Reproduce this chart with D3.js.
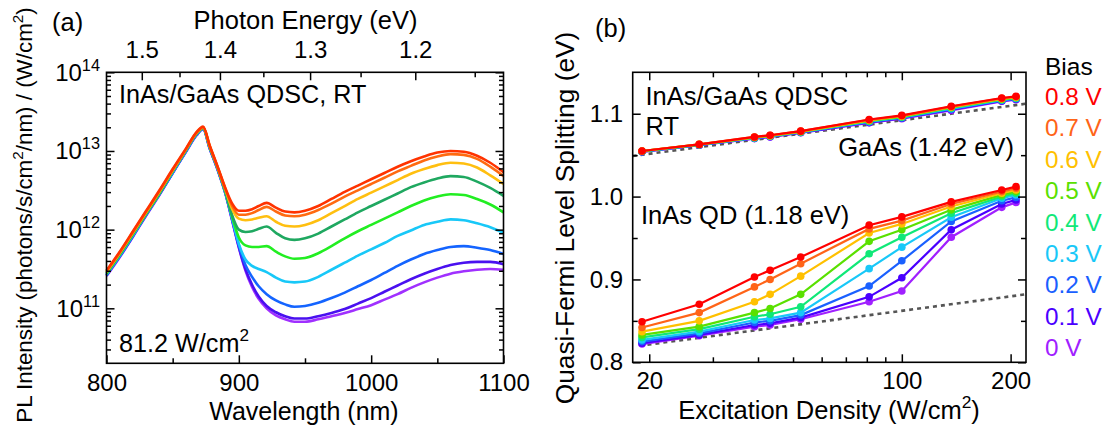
<!DOCTYPE html>
<html>
<head>
<meta charset="utf-8">
<script src="https://cdn.jsdelivr.net/npm/d3@7"></script>
<style>
  body { margin: 0; background: #fff; }
  text { font-family: "Liberation Sans", Arial, Helvetica, sans-serif; }
</style>
</head>
<body>
<svg id="chart" width="1108" height="432"></svg>
<script>
// ---------- panel (a): PL spectra, values are log10(PL intensity) ----------
const wavelength = [800, 810, 820, 830, 840, 850, 860, 868, 873, 878, 884,
  890, 895, 900, 905, 910, 915, 921, 928, 935, 942, 950, 960, 970, 980, 990,
  1000, 1010, 1020, 1030, 1040, 1050, 1060, 1070, 1080, 1090, 1100];

const pl08 = [11.48, 11.72, 11.98, 12.24, 12.50, 12.77, 13.03, 13.24, 13.31, 13.07, 12.80,
  12.52, 12.33, 12.24, 12.24, 12.26, 12.30, 12.34, 12.28, 12.23, 12.22, 12.24, 12.30, 12.39, 12.48, 12.56,
  12.64, 12.72, 12.80, 12.87, 12.93, 12.98, 13.00, 12.99, 12.94, 12.85, 12.73];
const pl07 = [11.47, 11.71, 11.97, 12.23, 12.49, 12.76, 13.02, 13.23, 13.30, 13.06, 12.79,
  12.51, 12.30, 12.19, 12.19, 12.21, 12.25, 12.29, 12.23, 12.18, 12.17, 12.19, 12.25, 12.33, 12.42, 12.50,
  12.58, 12.66, 12.74, 12.81, 12.88, 12.93, 12.96, 12.95, 12.90, 12.80, 12.68];
const pl06 = [11.46, 11.70, 11.96, 12.22, 12.48, 12.75, 13.02, 13.23, 13.30, 13.06, 12.79,
  12.50, 12.26, 12.14, 12.12, 12.13, 12.15, 12.17, 12.10, 12.05, 12.04, 12.06, 12.12, 12.21, 12.30, 12.39,
  12.47, 12.55, 12.63, 12.71, 12.77, 12.82, 12.85, 12.84, 12.79, 12.69, 12.58];
const pl05 = [11.45, 11.69, 11.95, 12.21, 12.47, 12.74, 13.01, 13.22, 13.30, 13.05, 12.78,
  12.48, 12.18, 12.00, 11.97, 11.98, 12.01, 12.04, 11.96, 11.89, 11.87, 11.89, 11.95, 12.04, 12.13, 12.22,
  12.30, 12.38, 12.46, 12.54, 12.60, 12.65, 12.68, 12.67, 12.61, 12.53, 12.43];
const pl04 = [11.44, 11.68, 11.94, 12.20, 12.46, 12.74, 13.01, 13.22, 13.29, 13.05, 12.78,
  12.47, 12.16, 11.90, 11.80, 11.78, 11.78, 11.79, 11.72, 11.66, 11.63, 11.64, 11.70, 11.79, 11.89, 11.98,
  12.06, 12.14, 12.22, 12.30, 12.37, 12.42, 12.45, 12.44, 12.39, 12.32, 12.22];
const pl03 = [11.43, 11.67, 11.93, 12.20, 12.46, 12.73, 13.00, 13.21, 13.29, 13.04, 12.77,
  12.46, 12.14, 11.82, 11.62, 11.54, 11.50, 11.46, 11.39, 11.34, 11.33, 11.34, 11.40, 11.49, 11.58, 11.67,
  11.75, 11.83, 11.92, 11.99, 12.06, 12.10, 12.13, 12.12, 12.08, 12.03, 11.96];
const pl02 = [11.42, 11.66, 11.92, 12.19, 12.45, 12.72, 13.00, 13.21, 13.28, 13.04, 12.77,
  12.46, 12.13, 11.80, 11.55, 11.40, 11.28, 11.18, 11.10, 11.05, 11.02, 11.03, 11.07, 11.13, 11.20, 11.28,
  11.36, 11.45, 11.54, 11.62, 11.69, 11.74, 11.78, 11.79, 11.77, 11.74, 11.69];
const pl01 = [11.42, 11.66, 11.92, 12.19, 12.45, 12.72, 12.99, 13.20, 13.28, 13.03, 12.76,
  12.45, 12.12, 11.78, 11.50, 11.30, 11.15, 11.03, 10.95, 10.90, 10.87, 10.87, 10.90, 10.94, 10.99, 11.06,
  11.13, 11.21, 11.29, 11.37, 11.44, 11.50, 11.55, 11.58, 11.59, 11.59, 11.56];
const pl00 = [11.41, 11.65, 11.91, 12.18, 12.44, 12.72, 12.99, 13.20, 13.28, 13.03, 12.76,
  12.45, 12.11, 11.77, 11.48, 11.27, 11.12, 11.00, 10.91, 10.86, 10.83, 10.83, 10.86, 10.90, 10.94, 10.99,
  11.04, 11.11, 11.18, 11.26, 11.33, 11.39, 11.44, 11.47, 11.49, 11.50, 11.49];

const spectra = [pl08, pl07, pl06, pl05, pl04, pl03, pl02, pl01, pl00];
const spectraColors = ["#ff3300", "#ff6a10", "#ffbf10", "#1fa860", "#22ee22", "#18c8f8", "#1464ff", "#4a10f0", "#a030ff"];

const wlMajor = [800, 900, 1000, 1100];
const wlMinor = [850, 950, 1050];
const energyMajor = [1.5, 1.4, 1.3, 1.2];
const energyMinor = [1.45, 1.35, 1.25, 1.15];
const plDecades = [11, 12, 13, 14];

// ---------- panel (b): quasi-Fermi level splitting ----------
const excitation = [19.1, 27.5, 39.1, 43.2, 52.5, 81.2, 100, 137, 189, 207];
const biasLabels = ["0.8 V", "0.7 V", "0.6 V", "0.5 V", "0.4 V", "0.3 V", "0.2 V", "0.1 V", "0 V"];
const biasColors = ["#ff0000", "#ff6418", "#ffc000", "#5ae000", "#10e878", "#18c8f8", "#1a60ff", "#4a00ff", "#a020ff"];

const gaas08 = [1.055, 1.063, 1.072, 1.074, 1.079, 1.093, 1.098, 1.109, 1.119, 1.121];
const gaas07 = [1.055, 1.063, 1.072, 1.074, 1.079, 1.0925, 1.0975, 1.1085, 1.1185, 1.1205];
const gaas06 = [1.055, 1.063, 1.0715, 1.0735, 1.0785, 1.092, 1.097, 1.108, 1.118, 1.120];
const gaas05 = [1.0548, 1.0628, 1.0713, 1.0733, 1.0783, 1.0915, 1.0965, 1.1075, 1.1175, 1.1195];
const gaas04 = [1.0546, 1.0626, 1.071, 1.073, 1.078, 1.091, 1.096, 1.107, 1.117, 1.119];
const gaas03 = [1.0545, 1.0625, 1.0708, 1.0728, 1.0778, 1.0905, 1.0955, 1.106, 1.1165, 1.1185];
const gaas02 = [1.0543, 1.0623, 1.0705, 1.0725, 1.0775, 1.090, 1.095, 1.1055, 1.116, 1.118];
const gaas01 = [1.0541, 1.0621, 1.0703, 1.0723, 1.0773, 1.0895, 1.0945, 1.105, 1.1155, 1.1175];
const gaas00 = [1.054, 1.062, 1.070, 1.072, 1.077, 1.089, 1.094, 1.104, 1.115, 1.117];

const qd08 = [0.849, 0.870, 0.903, 0.911, 0.927, 0.9655, 0.9755, 0.9936, 1.008, 1.012];
const qd07 = [0.842, 0.860, 0.891, 0.900, 0.919, 0.961, 0.971, 0.991, 1.006, 1.010];
const qd06 = [0.837, 0.850, 0.873, 0.882, 0.904, 0.956, 0.967, 0.988, 1.004, 1.008];
const qd05 = [0.833, 0.843, 0.860, 0.865, 0.882, 0.946, 0.960, 0.984, 1.002, 1.006];
const qd04 = [0.830, 0.840, 0.855, 0.858, 0.867, 0.931, 0.951, 0.980, 1.000, 1.004];
const qd03 = [0.827, 0.837, 0.851, 0.853, 0.860, 0.913, 0.939, 0.975, 0.998, 1.002];
const qd02 = [0.825, 0.835, 0.848, 0.850, 0.857, 0.892, 0.9225, 0.970, 0.995, 0.999];
const qd01 = [0.823, 0.833, 0.845, 0.847, 0.854, 0.879, 0.902, 0.960, 0.991, 0.996];
const qd00 = [0.822, 0.832, 0.843, 0.845, 0.852, 0.873, 0.886, 0.951, 0.987, 0.993];

const gaasSeries = [gaas08, gaas07, gaas06, gaas05, gaas04, gaas03, gaas02, gaas01, gaas00];
const qdSeries = [qd08, qd07, qd06, qd05, qd04, qd03, qd02, qd01, qd00];

const gaasLimitX = [18, 220];
const gaasLimitY = [1.049, 1.112];
const qdLimitX = [18.8, 220];
const qdLimitY = [0.820, 0.882];

const excMajor = [20, 100, 200];
const excMinor = [30, 40, 50, 60, 70, 80, 90];
const qflsMajor = [0.8, 0.9, 1.0, 1.1];
const qflsMinor = [0.85, 0.95, 1.05];

// ---------- helpers ----------
const svg = d3.select("#chart");
svg.append("rect").attr("width", 1108).attr("height", 432).attr("fill", "#fff");

const TICK_FONT = 24;
const LABEL_FONT = 25.5;

function richText(g, x, y, parts, size) {
  const t = g.append("text").attr("x", x).attr("y", y).attr("font-size", size).attr("fill", "#000");
  let shift = 0;
  parts.forEach(p => {
    const sup = p.startsWith("^");
    const target = sup ? -size * 0.42 : 0;
    t.append("tspan").attr("dy", target - shift)
      .attr("font-size", sup ? size * 0.68 : size)
      .text(sup ? p.slice(1) : p);
    shift = target;
  });
  return t;
}

function styleAxis(g) {
  g.select(".domain").remove();
  g.selectAll(".tick line").attr("stroke", "#000").attr("stroke-width", 1.5);
  g.selectAll(".tick text").attr("font-size", TICK_FONT).attr("fill", "#000")
    .style("font-family", '"Liberation Sans", Arial, sans-serif');
}

// ================= panel (a) =================
const gA = svg.append("g");
const xA = d3.scaleLinear().domain([800, 1100]).range([106.5, 503.5]);
const yA = d3.scaleLog().domain([2e10, 1e14]).range([363.3, 72.3]);

const lineA = d3.line()
  .x((d, i) => xA(wavelength[i]))
  .y(d => yA(Math.pow(10, d)))
  .curve(d3.curveMonotoneX);

for (let i = spectra.length - 1; i >= 0; i--) {
  gA.append("path").datum(spectra[i])
    .attr("d", lineA)
    .attr("fill", "none")
    .attr("stroke", spectraColors[i])
    .attr("stroke-width", 2.6)
    .attr("stroke-linejoin", "round");
}

const plMinor = [];
for (let e = 10; e < 14; e++) {
  for (let k = 2; k <= 9; k++) {
    const v = k * Math.pow(10, e);
    if (v > 2e10 && v < 1e14) plMinor.push(v);
  }
}
const plMajorVals = plDecades.map(e => Math.pow(10, e));

gA.append("g").attr("transform", "translate(0,363.3)")
  .call(d3.axisBottom(xA).tickValues(wlMajor).tickSize(-8).tickPadding(11).tickFormat(d3.format("d")))
  .call(styleAxis);
gA.append("g").attr("transform", "translate(0,363.3)")
  .call(d3.axisBottom(xA).tickValues(wlMinor).tickSize(-5).tickFormat(""))
  .call(styleAxis);
gA.append("g").attr("transform", "translate(0,72.3)")
  .call(d3.axisTop(xA).tickValues(energyMajor.map(e => 1240 / e)).tickSize(-8).tickPadding(14)
    .tickFormat((d, i) => energyMajor[i].toFixed(1)))
  .call(styleAxis);
gA.append("g").attr("transform", "translate(0,72.3)")
  .call(d3.axisTop(xA).tickValues(energyMinor.map(e => 1240 / e)).tickSize(-5).tickFormat(""))
  .call(styleAxis);
gA.append("g").attr("transform", "translate(106.5,0)")
  .call(d3.axisLeft(yA).tickValues(plMajorVals).tickSize(-8).tickFormat(""))
  .call(styleAxis);
gA.append("g").attr("transform", "translate(106.5,0)")
  .call(d3.axisLeft(yA).tickValues(plMinor).tickSize(-4.5).tickFormat(""))
  .call(styleAxis);
gA.append("g").attr("transform", "translate(503.5,0)")
  .call(d3.axisRight(yA).tickValues(plMajorVals).tickSize(-8).tickFormat(""))
  .call(styleAxis);
gA.append("g").attr("transform", "translate(503.5,0)")
  .call(d3.axisRight(yA).tickValues(plMinor).tickSize(-4.5).tickFormat(""))
  .call(styleAxis);

plDecades.forEach(e => {
  richText(gA, 100, yA(Math.pow(10, e)) + 8.5, ["10", "^" + e], TICK_FONT).attr("text-anchor", "end");
});

gA.append("rect").attr("x", 106.5).attr("y", 72.3).attr("width", 397).attr("height", 291)
  .attr("fill", "none").attr("stroke", "#000").attr("stroke-width", 1.6);

gA.append("text").attr("x", 52).attr("y", 30.5).attr("font-size", LABEL_FONT).text("(a)");
gA.append("text").attr("x", 305.5).attr("y", 29).attr("font-size", LABEL_FONT)
  .attr("text-anchor", "middle").text("Photon Energy (eV)");
gA.append("text").attr("x", 304).attr("y", 420).attr("font-size", 25)
  .attr("text-anchor", "middle").text("Wavelength (nm)");
gA.append("text").attr("x", 119).attr("y", 103).attr("font-size", 25.2).text("InAs/GaAs QDSC, RT");
richText(gA, 119, 351.5, ["81.2 W/cm", "^2"], 25.2);

const yTitleA = gA.append("g").attr("transform", "translate(32,215) rotate(-90)");
richText(yTitleA, 0, 0, ["PL Intensity (photons/s/cm", "^2", "/nm) / (W/cm", "^2", ")"], 22.4)
  .attr("text-anchor", "middle");

// ================= panel (b) =================
const gB = svg.append("g");
const xB = d3.scaleLog().domain([18, 220.6]).range([632.7, 1026]);
const yB = d3.scaleLinear().domain([0.8, 1.15]).range([362.3, 72.3]);

const limitLine = d3.line().x(d => xB(d[0])).y(d => yB(d[1]));
[[gaasLimitX, gaasLimitY], [qdLimitX, qdLimitY]].forEach(([xs, ys]) => {
  gB.append("path").datum(xs.map((x, i) => [x, ys[i]]))
    .attr("d", limitLine)
    .attr("fill", "none")
    .attr("stroke", "#555")
    .attr("stroke-width", 2.6)
    .attr("stroke-dasharray", "4,4");
});

const lineB = d3.line().x((d, i) => xB(excitation[i])).y(d => yB(d));
for (let i = biasLabels.length - 1; i >= 0; i--) {
  [gaasSeries[i], qdSeries[i]].forEach(vals => {
    gB.append("path").datum(vals)
      .attr("d", lineB)
      .attr("fill", "none")
      .attr("stroke", biasColors[i])
      .attr("stroke-width", 2.2);
    gB.selectAll(null).data(vals).enter().append("circle")
      .attr("cx", (d, j) => xB(excitation[j]))
      .attr("cy", d => yB(d))
      .attr("r", 3.8)
      .attr("fill", biasColors[i]);
  });
}

gB.append("g").attr("transform", "translate(0,362.3)")
  .call(d3.axisBottom(xB).tickValues(excMajor).tickSize(-8).tickPadding(10).tickFormat(d3.format("d")))
  .call(styleAxis);
gB.append("g").attr("transform", "translate(0,362.3)")
  .call(d3.axisBottom(xB).tickValues(excMinor).tickSize(-5).tickFormat(""))
  .call(styleAxis);
gB.append("g").attr("transform", "translate(0,72.3)")
  .call(d3.axisTop(xB).tickValues(excMajor).tickSize(-8).tickFormat(""))
  .call(styleAxis);
gB.append("g").attr("transform", "translate(0,72.3)")
  .call(d3.axisTop(xB).tickValues(excMinor).tickSize(-5).tickFormat(""))
  .call(styleAxis);
gB.append("g").attr("transform", "translate(632.7,0)")
  .call(d3.axisLeft(yB).tickValues(qflsMajor).tickSize(-8).tickPadding(9.5).tickFormat(d3.format(".1f")))
  .call(styleAxis);
gB.append("g").attr("transform", "translate(632.7,0)")
  .call(d3.axisLeft(yB).tickValues(qflsMinor).tickSize(-5).tickFormat(""))
  .call(styleAxis);
gB.append("g").attr("transform", "translate(1026,0)")
  .call(d3.axisRight(yB).tickValues(qflsMajor).tickSize(-8).tickFormat(""))
  .call(styleAxis);
gB.append("g").attr("transform", "translate(1026,0)")
  .call(d3.axisRight(yB).tickValues(qflsMinor).tickSize(-5).tickFormat(""))
  .call(styleAxis);

gB.append("rect").attr("x", 632.7).attr("y", 72.3).attr("width", 393.3).attr("height", 290)
  .attr("fill", "none").attr("stroke", "#000").attr("stroke-width", 1.6);

gB.append("text").attr("x", 595).attr("y", 37).attr("font-size", LABEL_FONT).text("(b)");
gB.append("text").attr("x", 645.5).attr("y", 105).attr("font-size", LABEL_FONT).text("InAs/GaAs QDSC");
gB.append("text").attr("x", 645.5).attr("y", 135).attr("font-size", LABEL_FONT).text("RT");
gB.append("text").attr("x", 1014).attr("y", 155.5).attr("font-size", LABEL_FONT)
  .attr("text-anchor", "end").text("GaAs (1.42 eV)");
gB.append("text").attr("x", 641).attr("y", 223.5).attr("font-size", LABEL_FONT).text("InAs QD (1.18 eV)");

richText(gB, 829, 419, ["Excitation Density (W/cm", "^2", ")"], LABEL_FONT).attr("text-anchor", "middle");
gB.append("g").attr("transform", "translate(574,218) rotate(-90)")
  .append("text").attr("x", 0).attr("y", 0).attr("font-size", 26.3)
  .attr("text-anchor", "middle").text("Quasi-Fermi Level Splitting (eV)");

// legend
gB.append("text").attr("x", 1045).attr("y", 75).attr("font-size", 24.5).text("Bias");
biasLabels.forEach((lab, i) => {
  gB.append("text").attr("x", 1045).attr("y", 105 + i * 31.4).attr("font-size", 24.3)
    .attr("fill", biasColors[i]).text(lab);
});
</script>
</body>
</html>
